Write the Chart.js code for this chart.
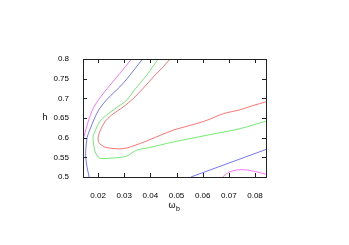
<!DOCTYPE html>
<html>
<head>
<meta charset="utf-8">
<script src="https://cdn.jsdelivr.net/npm/chart.js@4/dist/chart.umd.min.js"></script>
<style>
  html, body { margin: 0; padding: 0; background: #fff; }
  #wrap { width: 349px; height: 245px; }
</style>
</head>
<body>
<div id="wrap"><canvas id="chart-contour" width="349" height="245"></canvas></div>
<script>
// axis ticks
const xTicks = [0.02, 0.03, 0.04, 0.05, 0.06, 0.07, 0.08];
const yTicks = [0.5, 0.55, 0.6, 0.65, 0.7, 0.75, 0.8];
const xTickLabels = ['0.02', '0.03', '0.04', '0.05', '0.06', '0.07', '0.08'];
const yTickLabels = ['0.5', '0.55', '0.6', '0.65', '0.7', '0.75', '0.8'];

// contour levels
const redX = [0.0475, 0.0449, 0.0411, 0.0372, 0.0334, 0.0296, 0.0251, 0.0226, 0.0206, 0.0200, 0.0206, 0.0232, 0.0296, 0.0360, 0.0398, 0.0487, 0.0551, 0.0615, 0.0679, 0.0743, 0.0794, 0.0842];
const redY = [0.800, 0.780, 0.754, 0.725, 0.699, 0.678, 0.657, 0.640, 0.614, 0.597, 0.585, 0.575, 0.572, 0.585, 0.595, 0.619, 0.631, 0.644, 0.661, 0.671, 0.682, 0.691];

const greenX = [0.0430, 0.0385, 0.0340, 0.0309, 0.0270, 0.0232, 0.0206, 0.0187, 0.0181, 0.0187, 0.0200, 0.0213, 0.0270, 0.0309, 0.0347, 0.0398, 0.0487, 0.0615, 0.0743, 0.0842];
const greenY = [0.800, 0.758, 0.722, 0.695, 0.676, 0.657, 0.640, 0.614, 0.600, 0.568, 0.551, 0.547, 0.549, 0.553, 0.568, 0.575, 0.589, 0.606, 0.623, 0.642];

const blueX = [0.0370, 0.0311, 0.0283, 0.0238, 0.0206, 0.0187, 0.0168, 0.0158, 0.0153, 0.0153, 0.0158, 0.0166];
const blueY = [0.800, 0.750, 0.729, 0.700, 0.674, 0.650, 0.619, 0.600, 0.568, 0.550, 0.525, 0.500];
const blue2X = [0.0555, 0.0842];
const blue2Y = [0.500, 0.570];

const magentaX = [0.0328, 0.0283, 0.0245, 0.0206, 0.0181, 0.0162, 0.0149, 0.0144];
const magentaY = [0.800, 0.763, 0.733, 0.700, 0.674, 0.640, 0.610, 0.597];
const magenta2X = [0.0676, 0.0700, 0.0730, 0.0768, 0.0800, 0.0842];
const magenta2Y = [0.500, 0.512, 0.518, 0.518, 0.514, 0.507];

const pts = (xs, ys) => xs.map((x, i) => ({ x, y: ys[i] }));

const line = (xs, ys, color) => ({
  data: pts(xs, ys),
  showLine: true,
  borderColor: color,
  borderWidth: 1,
  pointRadius: 0,
  tension: 0.3,
  fill: false,
});

// gnuplot-style frame with inward ticks on all four sides
const frame = {
  id: 'frame',
  afterDraw(chart) {
    const { ctx, chartArea: a, scales } = chart;
    ctx.save();
    ctx.strokeStyle = '#222';
    ctx.lineWidth = 1;
    ctx.strokeRect(Math.round(a.left) + 0.5, Math.round(a.top) + 0.5,
      Math.round(a.right - a.left), Math.round(a.bottom - a.top));
    ctx.beginPath();
    const t = 4;
    xTicks.forEach(v => {
      const px = Math.round(scales.x.getPixelForValue(v)) + 0.5;
      ctx.moveTo(px, a.bottom); ctx.lineTo(px, a.bottom - t);
      ctx.moveTo(px, a.top); ctx.lineTo(px, a.top + t);
    });
    yTicks.forEach(v => {
      const py = Math.round(scales.y.getPixelForValue(v)) + 0.5;
      ctx.moveTo(a.left, py); ctx.lineTo(a.left + t, py);
      ctx.moveTo(a.right, py); ctx.lineTo(a.right - t, py);
    });
    ctx.stroke();

    // axis titles, upright like gnuplot
    ctx.fillStyle = '#000';
    ctx.font = "9px 'Liberation Sans', sans-serif";
    ctx.textAlign = 'center';
    ctx.textBaseline = 'middle';
    ctx.fillText('h', a.left - 38, scales.y.getPixelForValue(0.65));
    ctx.fillText('ω', 172, 206);
    ctx.font = "7px 'Liberation Sans', sans-serif";
    ctx.fillText('b', 178, 209);
    ctx.restore();
  }
};

new Chart(document.getElementById('chart-contour'), {
  type: 'scatter',
  data: {
    datasets: [
      line(redX, redY, 'rgba(255, 0, 0, 0.55)'),
      line(greenX, greenY, 'rgba(0, 220, 0, 0.55)'),
      line(blueX, blueY, 'rgba(0, 0, 255, 0.55)'),
      line(blue2X, blue2Y, 'rgba(0, 0, 255, 0.55)'),
      line(magentaX, magentaY, 'rgba(255, 0, 255, 0.55)'),
      line(magenta2X, magenta2Y, 'rgba(255, 0, 255, 0.55)'),
    ]
  },
  options: {
    responsive: false,
    animation: false,
    layout: { padding: { top: 59, right: 83, left: 0, bottom: 0 } },
    plugins: { legend: { display: false }, tooltip: { enabled: false } },
    scales: {
      x: {
        type: 'linear',
        min: 0.01425,
        max: 0.0842,
        grid: { display: false },
        border: { display: false },
        afterFit: (s) => { s.height = 68; },
        afterBuildTicks: (s) => { s.ticks = xTicks.map(v => ({ value: v })); },
        ticks: {
          padding: 6,
          color: '#000',
          font: { family: "'Liberation Sans', sans-serif", size: 8 },
          maxRotation: 0,
          callback: (v) => xTickLabels[xTicks.indexOf(v)] ?? '',
        }
      },
      y: {
        type: 'linear',
        min: 0.5,
        max: 0.8,
        grid: { display: false },
        border: { display: false },
        afterFit: (s) => { s.width = 83; },
        afterBuildTicks: (s) => { s.ticks = yTicks.map(v => ({ value: v })); },
        ticks: {
          padding: 6,
          color: '#000',
          font: { family: "'Liberation Sans', sans-serif", size: 8 },
          callback: (v) => yTickLabels[yTicks.indexOf(v)] ?? '',
        }
      }
    }
  },
  plugins: [frame]
});
</script>
</body>
</html>
